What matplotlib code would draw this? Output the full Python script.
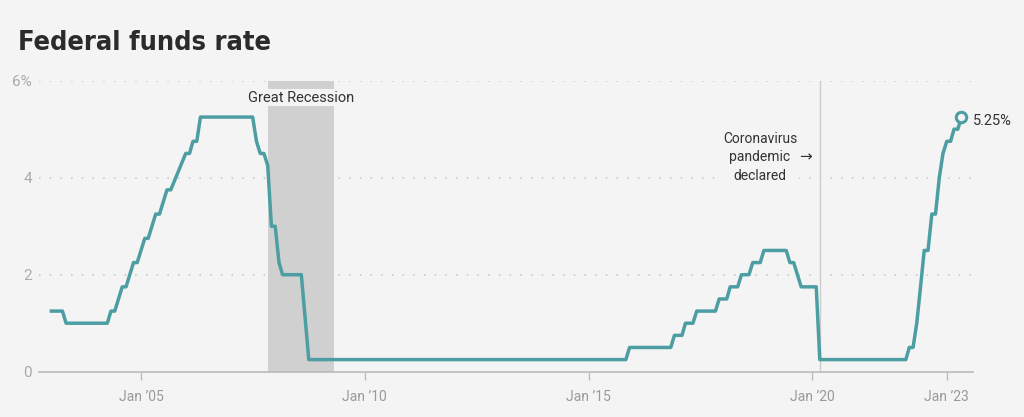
import numpy as np
import matplotlib.pyplot as plt
import matplotlib.dates as mdates
import pandas as pd

plt.rcParams['font.family'] = ['Roboto', 'DejaVu Sans']

# Fed funds rate (upper target), vertices, line drawn between them
months = ['2003-01', '2003-04', '2003-05', '2004-04', '2004-05', '2004-06', '2004-08', '2004-09',
          '2004-11', '2004-12', '2005-02', '2005-03', '2005-05', '2005-06', '2005-08', '2005-09',
          '2006-01', '2006-02', '2006-03', '2006-04', '2006-05', '2007-07', '2007-08', '2007-09',
          '2007-10', '2007-11', '2007-12', '2008-01', '2008-02', '2008-03', '2008-08', '2008-10',
          '2015-11', '2015-12', '2016-11', '2016-12', '2017-02', '2017-03', '2017-05', '2017-06',
          '2017-11', '2017-12', '2018-02', '2018-03', '2018-05', '2018-06', '2018-08', '2018-09',
          '2018-11', '2018-12', '2019-06', '2019-07', '2019-08', '2019-10', '2020-02', '2020-03',
          '2022-02', '2022-03', '2022-04', '2022-05', '2022-06', '2022-07', '2022-08', '2022-09',
          '2022-10', '2022-11', '2022-12', '2023-01', '2023-02', '2023-03', '2023-04', '2023-05']
rates = [1.25, 1.25, 1.00, 1.00, 1.25, 1.25, 1.75, 1.75,
         2.25, 2.25, 2.75, 2.75, 3.25, 3.25, 3.75, 3.75,
         4.50, 4.50, 4.75, 4.75, 5.25, 5.25, 4.75, 4.50,
         4.50, 4.25, 3.00, 3.00, 2.25, 2.00, 2.00, 0.25,
         0.25, 0.50, 0.50, 0.75, 0.75, 1.00, 1.00, 1.25,
         1.25, 1.50, 1.50, 1.75, 1.75, 2.00, 2.00, 2.25,
         2.25, 2.50, 2.50, 2.25, 2.25, 1.75, 1.75, 0.25,
         0.25, 0.50, 0.50, 1.00, 1.75, 2.50, 2.50, 3.25,
         3.25, 4.00, 4.50, 4.75, 4.75, 5.00, 5.00, 5.25]

recession = ('2007-11-01', '2009-04-25')
covid_date = '2020-03-01'
tick_dates = ['2005-01-01', '2010-01-01', '2015-01-01', '2020-01-01', '2023-01-01']
tick_labels = ["Jan \u201905", "Jan \u201910", "Jan \u201915", "Jan \u201920", "Jan \u201923"]

bg = '#f4f4f4'
teal = '#4c9ea3'

dates = pd.to_datetime(months)

fig = plt.figure(figsize=(10.24, 4.17), dpi=100, facecolor=bg)
ax = fig.add_axes([0.0381, 0.1086, 0.9121, 0.6979])
ax.set_facecolor(bg)

ax.set_ylim(0, 6)
ax.set_xlim(pd.Timestamp('2002-09-22'), pd.Timestamp('2023-08-03'))

for y in [2, 4, 6]:
    ax.axhline(y, color='#c4c4c4', lw=1.1, ls=(0, (1, 6)), zorder=1)

ax.axvspan(pd.Timestamp(recession[0]), pd.Timestamp(recession[1]), color='#d0d0d0', lw=0, zorder=2)
ax.axvline(pd.Timestamp(covid_date), color='#cccccc', lw=1, zorder=2)

ax.plot(dates, rates, color=teal, lw=2.5, solid_joinstyle='round', zorder=4)
ax.plot(dates[-1:], rates[-1:], 'o', ms=7.5, mfc=bg, mec=teal, mew=2.2, zorder=5)

ax.text(pd.Timestamp('2008-08-01'), 5.65, 'Great Recession', ha='center', va='center',
        fontsize=10.5, color='#333333', zorder=6,
        bbox=dict(boxstyle='square,pad=0.1', fc=bg, ec='none'))
ax.text(pd.Timestamp('2018-10-30'), 4.42, 'Coronavirus\npandemic\ndeclared', ha='center', va='center',
        multialignment='center', fontsize=10, color='#333333', linespacing=1.4, zorder=6,
        bbox=dict(boxstyle='square,pad=0.1', fc=bg, ec='none'))
ax.text(pd.Timestamp('2019-11-05'), 4.42, '\u2192', ha='center', va='center',
        fontsize=11, color='#333333', family='DejaVu Sans', zorder=6)
ax.annotate('5.25%', (dates[-1], rates[-1]), xytext=(8, -3), textcoords='offset points',
            ha='left', va='center', fontsize=10.5, color='#333333', zorder=6)

for s in ['top', 'right', 'left']:
    ax.spines[s].set_visible(False)
ax.spines['bottom'].set_color('#bbbbbb')
ax.spines['bottom'].set_linewidth(1.2)

ax.set_yticks([0, 2, 4, 6])
ax.set_yticklabels(['0', '2', '4', '6%'])
ax.tick_params(axis='y', length=0, pad=5, labelsize=11, labelcolor='#aaaaaa')
ax.set_xticks(pd.to_datetime(tick_dates))
ax.set_xticklabels(tick_labels)
ax.tick_params(axis='x', length=5.5, width=1, color='#bbbbbb', pad=8, labelsize=10, labelcolor='#999999')

fig.text(0.018, 0.880, 'Federal funds rate', fontsize=19.5, fontweight='bold', color='#2b2b2b',
         family='DejaVu Sans', fontstretch='condensed', ha='left', va='baseline')

fig.savefig('out.png', dpi=100, facecolor=bg)
